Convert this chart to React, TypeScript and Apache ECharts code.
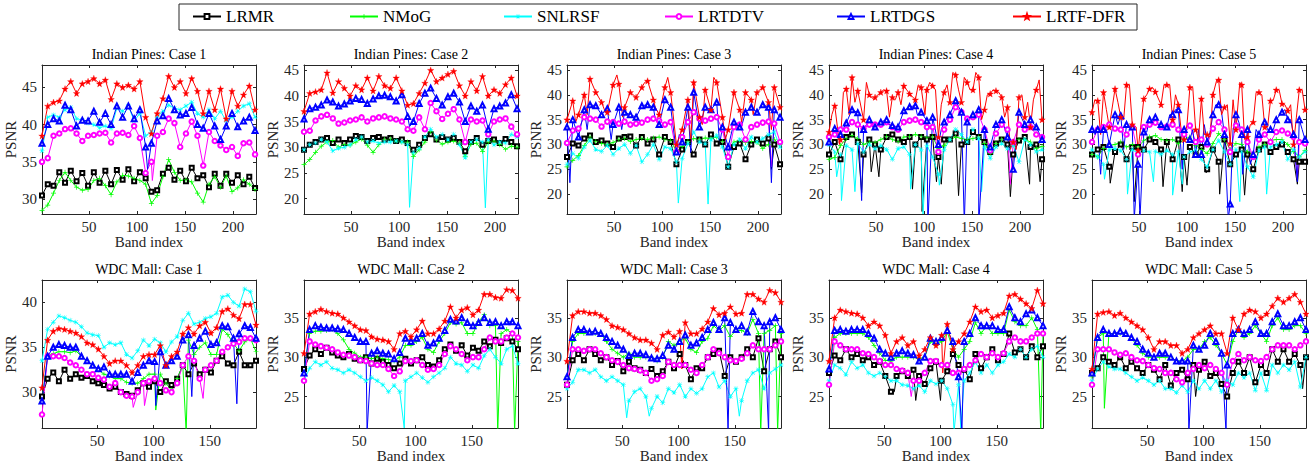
import React, { useEffect, useRef } from "react";
import * as echarts from "echarts";

const FONT = "'Liberation Serif', 'Times New Roman', serif";

const methods = ["LRMR", "NMoG", "SNLRSF", "LRTDTV", "LRTDGS", "LRTF-DFR"];

// band indices sampled from the curves
const ipBands = [1, 7, 13, 19, 25, 31, 37, 43, 49, 55, 61, 67, 73, 79, 85, 91, 97, 103, 109, 115, 121, 127, 133, 139, 145, 151, 157, 163, 169, 175, 181, 187, 193, 199, 205, 211, 217, 223];
const wdcBands = [1, 6, 11, 16, 21, 26, 31, 36, 41, 46, 51, 56, 61, 66, 71, 76, 81, 86, 91, 96, 101, 106, 111, 116, 121, 126, 131, 136, 141, 146, 151, 156, 161, 166, 171, 176, 181, 186, 191];

const ipXTicks = [50, 100, 150, 200];
const wdcXTicks = [50, 100, 150];
const ipYTicksCase1 = [30, 35, 40, 45];
const ipYTicks = [20, 25, 30, 35, 40, 45];
const wdcYTicksCase1 = [30, 35, 40];
const wdcYTicks = [25, 30, 35];

// ---------- Indian Pines: Case 1 ----------
const ip1Lrmr = [30.5, 32.0, 31.8, 33.6, 32.2, 33.8, 32.4, 33.5, 31.8, 33.6, 32.2, 33.8, 32.0, 33.9, 32.6, 34.0, 32.4, 33.6, 32.8, 31.0, 31.2, 33.4, 34.2, 32.6, 33.8, 32.4, 34.2, 32.8, 33.2, 31.6, 33.4, 31.8, 33.4, 32.2, 33.2, 32.0, 33.0, 31.5];
const ip1Nmog = [28.5, 29.2, 30.8, 32.5, 33.6, 32.5, 31.6, 31.2, 31.3, 32.5, 32.8, 31.8, 30.6, 32.3, 33.2, 33.1, 32.8, 32.5, 32.0, 29.4, 30.5, 33.0, 35.3, 33.6, 32.5, 32.6, 32.3, 30.8, 29.6, 32.0, 33.0, 31.6, 33.1, 31.0, 31.5, 32.6, 32.0, 31.3];
const ip1Snlrsf = [36.5, 41.0, 41.3, 41.0, 42.0, 42.3, 40.8, 40.6, 40.2, 40.0, 39.6, 39.8, 39.5, 42.2, 41.8, 42.5, 40.5, 41.5, 38.5, 39.0, 41.0, 41.8, 42.6, 42.2, 42.0, 42.5, 43.0, 41.5, 41.0, 42.0, 40.8, 41.8, 40.5, 41.0, 41.8, 42.5, 42.8, 41.0];
const ip1Lrtdtv = [35.0, 35.5, 38.5, 38.8, 39.4, 39.5, 38.8, 37.8, 38.5, 38.6, 38.8, 38.9, 37.6, 38.8, 38.9, 38.6, 39.8, 38.2, 33.5, 35.0, 38.5, 39.0, 40.8, 40.2, 37.0, 38.8, 40.4, 38.5, 34.5, 39.0, 37.8, 37.2, 36.6, 37.0, 35.8, 37.5, 37.6, 36.0];
const ip1Lrtdgs = [37.5, 40.0, 40.8, 40.5, 42.6, 42.0, 39.8, 40.6, 40.5, 41.8, 40.3, 41.5, 40.0, 42.5, 41.0, 42.5, 40.8, 42.0, 37.0, 37.5, 40.5, 41.2, 43.5, 42.0, 41.3, 41.5, 42.3, 40.0, 39.5, 41.5, 39.8, 38.0, 39.8, 41.5, 39.7, 40.5, 41.0, 39.2];
const ip1Lrtfdfr = [38.5, 42.5, 43.0, 43.2, 44.8, 45.8, 44.2, 45.5, 45.8, 46.2, 45.5, 46.0, 43.4, 45.5, 45.0, 45.3, 44.8, 45.8, 41.0, 38.8, 41.5, 43.5, 46.5, 45.0, 45.8, 44.2, 46.2, 44.5, 41.5, 44.5, 42.0, 44.8, 40.8, 44.5, 42.5, 44.0, 45.2, 42.0];
// [method index, band, PSNR] for narrow excursions between the sampled bands
const ip1Spikes = [[4, 111, 34.0], [3, 116, 32.5]];

// ---------- Indian Pines: Case 2 ----------
const ip2Lrmr = [29.5, 30.5, 31.0, 31.5, 31.8, 30.8, 31.5, 30.8, 31.5, 32.2, 32.0, 31.2, 31.8, 32.0, 31.5, 31.8, 31.2, 31.5, 30.8, 29.5, 30.5, 31.8, 32.5, 31.5, 32.0, 31.5, 31.8, 31.0, 29.2, 31.0, 31.8, 30.5, 31.2, 31.5, 30.8, 31.6, 31.0, 30.2];
const ip2Nmog = [26.6, 27.6, 29.0, 30.2, 31.0, 31.3, 30.0, 30.5, 30.4, 31.0, 31.6, 30.4, 29.0, 30.5, 31.5, 31.6, 31.2, 31.0, 31.0, 28.2, 29.5, 31.0, 33.0, 31.4, 30.6, 31.0, 31.2, 30.8, 28.2, 30.6, 30.8, 29.2, 31.0, 31.2, 30.5, 29.6, 30.2, 30.0];
const ip2Snlrsf = [29.5, 30.5, 30.8, 31.5, 31.0, 29.3, 29.8, 30.0, 30.5, 31.5, 32.0, 31.0, 31.2, 30.8, 31.0, 31.0, 31.2, 31.0, 30.5, 29.0, 29.8, 32.0, 33.5, 32.0, 32.5, 31.5, 32.5, 30.5, 28.0, 31.0, 31.5, 31.0, 31.5, 30.5, 31.0, 30.8, 32.5, 32.0];
const ip2Lrtdtv = [33.0, 33.2, 35.2, 36.0, 36.3, 35.6, 34.6, 34.8, 35.2, 35.4, 35.8, 35.0, 35.6, 35.8, 36.0, 35.6, 35.4, 35.0, 33.5, 33.2, 35.8, 33.5, 38.6, 37.0, 35.5, 36.5, 37.4, 35.4, 31.0, 35.4, 35.0, 35.2, 32.5, 35.0, 35.4, 35.6, 34.0, 32.5];
const ip2Lrtdgs = [35.5, 37.5, 37.8, 38.2, 39.2, 38.8, 38.0, 38.4, 39.0, 39.5, 39.3, 38.5, 39.4, 40.0, 40.1, 39.8, 39.0, 40.2, 36.0, 35.0, 38.5, 40.5, 41.5, 39.5, 38.2, 39.8, 40.5, 38.8, 35.0, 38.0, 37.0, 38.2, 33.5, 37.5, 38.0, 38.6, 40.2, 37.5];
const ip2Lrtfdfr = [37.0, 40.5, 40.8, 41.2, 44.5, 40.6, 42.8, 41.5, 40.0, 42.0, 41.2, 43.5, 41.0, 43.8, 42.0, 41.5, 43.5, 41.0, 38.2, 38.5, 40.5, 42.5, 45.0, 42.8, 43.5, 44.2, 44.8, 42.0, 40.0, 42.8, 41.0, 43.8, 40.0, 41.2, 40.5, 42.2, 43.5, 40.0];
const ip2Spikes = [[2, 111, 18.3], [2, 190, 18.2], [4, 111, 34.0]];

// ---------- Indian Pines: Case 3 ----------
const ip3Lrmr = [27.5, 30.2, 29.8, 31.2, 31.8, 30.5, 30.8, 30.2, 29.5, 31.2, 31.5, 31.6, 29.8, 31.5, 30.2, 31.0, 28.0, 31.5, 30.5, 26.0, 29.0, 30.5, 28.0, 31.0, 30.0, 32.0, 30.2, 30.5, 25.5, 29.5, 30.2, 27.0, 30.0, 31.0, 30.2, 31.2, 30.0, 26.0];
const ip3Nmog = [25.5, 26.8, 27.8, 29.8, 31.5, 30.6, 30.2, 30.0, 30.4, 31.0, 31.2, 30.6, 31.0, 31.2, 31.0, 31.3, 31.5, 31.0, 30.8, 28.6, 29.6, 30.6, 31.2, 31.0, 31.3, 31.2, 31.5, 30.6, 29.2, 30.5, 30.8, 30.4, 30.6, 30.4, 29.2, 30.0, 31.0, 30.0];
const ip3Snlrsf = [26.0, 28.2, 27.2, 29.5, 30.8, 29.0, 28.6, 29.8, 28.0, 29.2, 30.0, 28.2, 29.8, 26.5, 28.0, 30.0, 27.0, 29.5, 29.2, 26.5, 27.2, 30.2, 32.5, 30.5, 30.2, 31.0, 31.8, 29.5, 25.5, 30.0, 31.0, 29.2, 31.5, 30.5, 31.2, 32.0, 32.5, 29.5];
const ip3Lrtdtv = [30.3, 32.8, 33.2, 35.5, 35.2, 35.0, 33.6, 34.6, 34.5, 34.2, 34.6, 34.0, 34.2, 34.4, 35.0, 35.2, 34.8, 34.0, 34.5, 28.5, 31.5, 34.5, 36.5, 35.2, 34.8, 35.2, 35.5, 33.0, 27.5, 33.5, 34.0, 31.0, 33.5, 34.0, 34.4, 34.6, 34.2, 30.5];
const ip3Lrtdgs = [33.5, 35.0, 31.5, 37.0, 38.0, 37.8, 36.0, 37.2, 34.0, 37.5, 36.5, 36.0, 35.5, 37.8, 38.0, 37.5, 34.0, 39.0, 37.5, 28.5, 30.5, 37.5, 40.5, 33.5, 37.5, 37.0, 38.5, 33.5, 29.5, 34.5, 33.5, 36.5, 37.5, 36.5, 38.0, 37.5, 37.0, 35.5];
const ip3Lrtfdfr = [35.0, 38.8, 36.0, 40.0, 43.2, 40.5, 38.5, 36.5, 42.0, 42.2, 37.5, 40.5, 39.5, 41.5, 42.8, 39.0, 36.0, 41.5, 40.5, 30.0, 33.0, 39.0, 42.5, 35.5, 41.0, 37.0, 42.5, 35.5, 33.0, 40.5, 37.0, 40.5, 39.0, 40.5, 41.5, 38.5, 41.5, 37.5];
const ip3Spikes = [
  [4, 4, 22.3], [4, 214, 22.3], [4, 130, 28.3], [4, 22, 33.0], [4, 47, 31.0], [4, 58, 33.0], [4, 93, 35.0], [4, 118, 32.0], [4, 160, 30.0], [4, 182, 33.0],
  [3, 214, 25.5], [0, 214, 25.0], [2, 117, 18.2], [2, 148, 18.0],
  [5, 130, 30.5], [5, 10, 34.5], [5, 22, 36.0], [5, 41, 36.5], [5, 53, 44.0], [5, 59, 35.5], [5, 82, 42.5], [5, 93, 37.5], [5, 106, 43.5], [5, 142, 34.0], [5, 154, 43.5], [5, 166, 31.0], [5, 183, 34.5], [5, 195, 36.0], [5, 214, 33.0],
];

// ---------- Indian Pines: Case 4 ----------
const ip4Lrmr = [28.0, 30.5, 27.0, 31.5, 32.0, 30.5, 28.0, 31.0, 30.0, 29.0, 31.5, 32.0, 31.0, 30.5, 31.5, 30.0, 31.5, 31.0, 31.5, 27.5, 31.0, 31.0, 32.2, 30.0, 30.5, 32.5, 31.5, 30.5, 28.5, 30.2, 31.0, 30.0, 28.0, 30.8, 31.5, 29.5, 30.0, 27.0];
const ip4Nmog = [27.0, 27.4, 29.8, 31.2, 31.8, 31.2, 30.0, 30.5, 30.4, 31.0, 31.6, 31.0, 30.6, 31.5, 31.6, 32.0, 31.6, 31.4, 31.5, 29.2, 29.8, 31.0, 31.5, 31.2, 31.0, 31.2, 31.5, 30.2, 28.2, 30.2, 31.0, 31.2, 30.2, 31.0, 31.0, 30.5, 29.2, 29.6];
const ip4Snlrsf = [30.0, 28.5, 28.0, 29.8, 29.0, 30.2, 28.5, 30.0, 29.2, 29.8, 29.0, 27.0, 29.2, 29.5, 28.0, 30.0, 29.0, 29.8, 27.5, 24.0, 29.0, 31.0, 33.0, 32.0, 30.5, 33.0, 31.2, 29.5, 27.2, 29.5, 30.2, 29.2, 29.8, 26.5, 31.0, 30.0, 28.5, 29.0];
const ip4Lrtdtv = [31.5, 32.0, 33.0, 33.0, 34.5, 34.0, 33.2, 34.0, 34.0, 34.0, 34.5, 33.5, 33.0, 34.5, 34.8, 35.0, 34.5, 33.5, 33.5, 28.5, 33.0, 35.0, 37.5, 36.5, 35.2, 35.5, 36.0, 33.0, 28.8, 32.2, 34.0, 33.0, 30.5, 34.0, 33.0, 33.5, 32.0, 31.5];
const ip4Lrtdgs = [30.5, 33.2, 32.0, 34.3, 37.0, 36.4, 33.0, 35.0, 33.5, 34.5, 35.0, 33.8, 33.5, 36.8, 37.6, 37.8, 36.5, 34.8, 35.5, 30.0, 34.5, 36.0, 38.8, 36.5, 34.5, 36.0, 37.0, 33.0, 29.5, 34.0, 35.0, 31.5, 25.0, 36.5, 34.0, 35.0, 33.5, 31.0];
const ip4Lrtfdfr = [32.5, 37.8, 31.0, 41.2, 43.5, 40.8, 35.0, 40.0, 39.5, 40.5, 40.8, 39.5, 40.5, 41.8, 40.2, 39.0, 41.5, 41.0, 41.8, 31.5, 40.5, 38.5, 44.0, 38.5, 42.5, 41.0, 43.5, 37.0, 40.2, 40.8, 39.5, 37.5, 30.5, 39.5, 35.5, 33.5, 41.0, 35.0];
const ip4Spikes = [
  [0, 35, 20.3], [0, 45, 24.5], [0, 53, 23.5], [0, 88, 21.0], [0, 98, 16.5], [0, 113, 22.5], [0, 118, 22.0], [0, 136, 19.7], [0, 190, 19.5], [0, 210, 22.0], [0, 221, 22.5],
  [2, 9, 23.5], [2, 14, 18.7], [2, 28, 20.5], [2, 86, 21.0], [2, 99, 16.0], [2, 116, 21.8], [2, 160, 20.5],
  [3, 190, 22.0],
  [4, 35, 18.7], [4, 104, 14.0], [4, 142, 14.0], [4, 157, 14.0], [4, 12, 31.0], [4, 48, 33.0], [4, 63, 34.0], [4, 93, 36.0], [4, 118, 33.0], [4, 165, 30.0],
  [5, 12, 30.0], [5, 64, 35.5], [5, 101, 36.0], [5, 160, 35.0], [5, 184, 35.5],
  [5, 4, 36.0], [5, 16, 40.5], [5, 22, 36.0], [5, 28, 38.5], [5, 40, 42.5], [5, 48, 39.0], [5, 58, 41.0], [5, 70, 39.0], [5, 76, 38.0], [5, 82, 41.0], [5, 94, 42.0], [5, 106, 42.5], [5, 112, 41.0], [5, 118, 38.0], [5, 124, 42.0], [5, 130, 44.5], [5, 136, 41.0], [5, 142, 43.5], [5, 148, 41.0], [5, 154, 44.5], [5, 166, 40.0], [5, 172, 41.0], [5, 178, 40.5], [5, 190, 29.0], [5, 196, 29.0], [5, 202, 40.0], [5, 208, 38.5], [5, 214, 39.0], [5, 220, 43.0],
];

// ---------- Indian Pines: Case 5 ----------
const ip5Lrmr = [28.0, 29.0, 29.5, 25.5, 28.5, 30.0, 27.0, 29.5, 29.5, 29.0, 31.0, 30.5, 29.0, 30.5, 27.0, 31.0, 27.5, 29.5, 28.0, 29.5, 25.0, 29.0, 26.5, 31.0, 26.0, 28.0, 29.0, 28.0, 25.0, 29.0, 30.0, 28.5, 29.5, 30.0, 28.5, 27.0, 26.5, 26.5];
const ip5Nmog = [28.0, 27.5, 29.2, 29.8, 30.0, 30.5, 29.5, 30.0, 29.5, 30.8, 31.5, 31.8, 31.0, 30.8, 31.0, 30.2, 31.0, 31.5, 29.8, 29.0, 28.2, 30.2, 32.2, 31.0, 29.0, 30.2, 30.0, 28.5, 27.8, 29.5, 30.0, 30.8, 31.0, 31.0, 30.0, 28.6, 27.5, 28.8];
const ip5Snlrsf = [29.0, 27.5, 26.0, 29.0, 29.2, 28.8, 27.0, 29.0, 28.2, 28.8, 28.5, 28.6, 28.0, 28.8, 28.0, 28.6, 27.5, 28.5, 28.8, 27.0, 25.5, 29.0, 30.8, 28.5, 26.0, 29.0, 28.5, 25.5, 23.5, 28.8, 29.5, 29.5, 30.0, 30.5, 27.0, 29.0, 27.5, 28.5];
const ip5Lrtdtv = [30.5, 33.0, 33.5, 34.0, 33.2, 33.0, 32.0, 33.5, 28.0, 33.5, 34.0, 34.4, 33.5, 33.6, 34.0, 33.0, 32.0, 33.8, 30.5, 31.0, 30.0, 33.2, 34.5, 33.0, 28.5, 33.8, 33.0, 30.5, 27.5, 31.0, 32.0, 30.5, 32.5, 32.8, 32.2, 31.5, 30.5, 30.2];
const ip5Lrtdgs = [33.0, 33.0, 33.0, 30.0, 36.0, 35.8, 34.0, 33.5, 26.0, 32.5, 35.0, 35.5, 34.0, 33.5, 36.0, 37.0, 33.0, 31.0, 28.0, 28.0, 30.5, 36.0, 38.0, 32.0, 18.0, 36.0, 32.0, 33.0, 28.0, 32.0, 34.5, 33.0, 35.0, 36.5, 35.0, 32.0, 35.0, 31.0];
const ip5Lrtfdfr = [36.5, 38.8, 40.5, 33.5, 41.2, 35.5, 42.0, 34.0, 28.8, 39.2, 41.2, 40.6, 38.0, 42.0, 35.0, 38.0, 31.0, 41.5, 33.0, 39.2, 32.0, 40.0, 43.0, 37.5, 30.2, 33.0, 42.0, 31.5, 34.5, 40.5, 33.5, 38.8, 41.0, 38.2, 36.8, 30.0, 41.0, 37.0];
const ip5Spikes = [
  [0, 20, 22.2], [0, 45, 18.5], [0, 75, 21.5], [0, 95, 20.5], [0, 100, 21.8], [0, 120, 24.3], [0, 134, 20.0], [0, 160, 19.8], [0, 215, 22.0],
  [2, 14, 23.0], [2, 38, 20.0], [2, 65, 22.5], [2, 85, 19.8], [2, 95, 22.0], [2, 155, 18.5], [2, 183, 20.0],
  [3, 215, 23.0],
  [4, 10, 24.0], [4, 45, 15.0], [4, 51, 15.0], [4, 95, 25.0], [4, 143, 15.0], [4, 158, 24.0], [4, 215, 22.5],
  [4, 4, 32.0], [4, 16, 33.0], [4, 28, 34.0], [4, 34, 29.0], [4, 40, 33.5], [4, 58, 32.5], [4, 64, 34.0], [4, 70, 34.0], [4, 82, 36.0], [4, 88, 37.0], [4, 100, 31.0], [4, 106, 33.0], [4, 112, 33.0], [4, 118, 34.0], [4, 124, 32.5], [4, 130, 38.0], [4, 136, 36.5], [4, 148, 33.0], [4, 154, 34.5], [4, 166, 26.0], [4, 172, 33.0], [4, 178, 34.0], [4, 184, 33.0], [4, 190, 33.0], [4, 202, 37.0], [4, 208, 35.0], [4, 220, 33.0],
  [5, 4, 39.0], [5, 10, 32.0], [5, 16, 37.0], [5, 28, 38.5], [5, 34, 35.0], [5, 40, 42.0], [5, 47, 33.5], [5, 58, 40.0], [5, 64, 41.5], [5, 76, 42.0], [5, 82, 42.0], [5, 88, 40.0], [5, 95, 31.0], [5, 100, 34.0], [5, 106, 41.5], [5, 112, 31.0], [5, 118, 32.0], [5, 124, 31.5], [5, 131, 43.0], [5, 136, 36.0], [5, 142, 38.0], [5, 148, 39.0], [5, 155, 42.5], [5, 160, 31.0], [5, 166, 34.0], [5, 172, 40.5], [5, 178, 40.0], [5, 184, 33.5], [5, 190, 39.0], [5, 196, 41.0], [5, 202, 38.0], [5, 208, 38.0], [5, 214, 35.5], [5, 220, 41.0],
];

// ---------- WDC Mall: Case 1 ----------
const wdc1Lrmr = [29.5, 31.5, 32.2, 31.2, 32.5, 31.5, 32.0, 31.6, 31.8, 31.2, 31.0, 30.8, 30.4, 30.6, 30.0, 29.8, 29.6, 30.2, 31.0, 30.6, 31.2, 30.0, 31.2, 30.8, 31.5, 33.0, 32.0, 33.2, 32.0, 32.5, 32.2, 33.5, 34.0, 33.2, 33.0, 34.5, 33.0, 33.0, 33.5];
const wdc1Nmog = [29.0, 34.0, 34.3, 34.5, 34.5, 34.4, 34.6, 34.0, 33.5, 33.0, 32.5, 32.0, 31.8, 31.5, 31.5, 31.1, 31.0, 31.0, 31.5, 32.0, 32.0, 32.0, 31.0, 30.2, 31.5, 33.0, 35.8, 34.2, 35.0, 35.5, 34.2, 34.2, 37.0, 36.4, 35.4, 34.6, 35.6, 36.0, 34.5];
const wdc1Snlrsf = [33.5, 37.0, 37.8, 38.5, 38.3, 38.0, 37.8, 37.3, 36.6, 36.4, 36.3, 35.0, 35.5, 35.3, 35.5, 34.2, 33.8, 34.6, 35.8, 35.2, 35.9, 35.5, 34.5, 35.6, 36.2, 38.0, 38.8, 37.6, 37.8, 38.2, 38.4, 38.8, 40.6, 40.8, 40.0, 39.6, 41.5, 41.2, 39.0];
const wdc1Lrtdtv = [27.5, 34.0, 34.0, 34.0, 33.8, 33.3, 33.0, 32.5, 32.0, 32.0, 31.6, 31.4, 30.6, 31.0, 30.0, 29.6, 29.5, 30.0, 31.0, 31.2, 31.5, 31.0, 30.2, 30.0, 31.0, 33.0, 34.0, 33.5, 31.5, 32.5, 33.0, 33.5, 34.5, 35.0, 35.4, 35.6, 36.0, 36.0, 35.8];
const wdc1Lrtdgs = [29.0, 34.0, 35.0, 35.3, 35.2, 35.0, 35.0, 34.0, 33.5, 33.0, 32.6, 32.8, 32.0, 32.0, 32.0, 32.0, 31.2, 32.2, 33.0, 33.5, 33.4, 34.5, 33.0, 33.5, 34.0, 35.8, 36.4, 35.2, 36.0, 36.8, 35.3, 35.5, 37.4, 37.3, 36.0, 36.5, 37.4, 37.2, 36.0];
const wdc1Lrtfdfr = [30.5, 35.8, 36.8, 37.1, 37.0, 36.8, 36.6, 36.2, 35.5, 35.3, 34.8, 34.0, 33.2, 33.5, 33.5, 33.0, 32.2, 33.0, 34.0, 34.2, 34.2, 35.2, 33.0, 34.0, 34.5, 36.5, 37.2, 36.5, 37.4, 37.8, 36.6, 37.2, 39.0, 39.3, 38.6, 38.2, 39.8, 39.8, 37.5];
const wdc1Spikes = [[4, 102, 28.5], [4, 134, 29.5], [4, 174, 28.7], [1, 102, 28.0], [1, 129, 25.5], [3, 82, 28.3], [3, 92, 28.5], [3, 144, 29.3]];

// ---------- WDC Mall: Case 2 ----------
const wdc2Lrmr = [28.5, 30.2, 31.0, 30.4, 31.2, 30.6, 30.2, 30.0, 30.4, 29.8, 29.6, 30.0, 29.2, 29.8, 29.4, 29.0, 28.6, 29.2, 29.8, 29.2, 29.6, 30.0, 29.0, 28.8, 29.6, 31.0, 31.6, 30.8, 31.5, 30.2, 31.2, 30.8, 32.0, 31.4, 32.2, 31.8, 32.4, 32.0, 31.0];
const wdc2Nmog = [28.0, 33.0, 33.3, 33.3, 33.4, 33.5, 33.0, 32.2, 31.0, 30.5, 30.0, 30.0, 29.8, 30.0, 29.8, 29.7, 29.5, 30.0, 31.5, 31.5, 32.0, 32.5, 31.0, 30.6, 32.0, 33.0, 34.4, 34.2, 34.4, 33.0, 33.0, 34.5, 35.4, 34.0, 34.0, 33.0, 33.5, 33.0, 32.0];
const wdc2Snlrsf = [27.0, 28.6, 29.4, 29.0, 29.4, 28.6, 28.4, 28.0, 28.4, 28.0, 27.5, 27.0, 27.4, 27.0, 26.5, 25.6, 26.4, 25.6, 27.0, 27.5, 28.0, 27.4, 26.8, 27.5, 28.0, 28.6, 30.0, 29.2, 29.0, 28.2, 29.0, 28.6, 30.2, 31.0, 30.0, 29.2, 31.0, 31.4, 29.2];
const wdc2Lrtdtv = [27.0, 32.0, 31.6, 31.4, 31.2, 31.0, 30.6, 30.3, 30.2, 30.0, 29.6, 29.5, 29.2, 29.0, 29.0, 28.5, 27.6, 28.2, 29.5, 29.5, 29.6, 29.0, 28.4, 28.5, 29.0, 30.4, 31.4, 31.0, 30.4, 29.6, 30.0, 30.0, 31.0, 32.5, 32.0, 32.0, 32.5, 33.0, 32.5];
const wdc2Lrtdgs = [28.0, 33.5, 34.0, 33.8, 33.7, 33.7, 33.6, 33.5, 33.0, 32.5, 32.0, 32.0, 30.5, 30.8, 30.5, 30.4, 29.8, 30.6, 32.4, 32.0, 32.4, 33.0, 31.5, 31.8, 32.4, 33.4, 34.8, 34.6, 35.0, 34.4, 34.0, 34.4, 35.0, 34.4, 34.5, 34.0, 34.5, 34.5, 34.0];
const wdc2Lrtfdfr = [30.5, 35.5, 35.8, 36.1, 35.8, 35.6, 35.5, 35.0, 34.5, 34.0, 33.5, 33.4, 32.6, 32.3, 32.2, 32.0, 31.0, 33.0, 33.3, 32.6, 33.5, 34.6, 33.0, 33.0, 33.6, 34.6, 36.4, 35.0, 36.0, 36.3, 35.4, 36.0, 38.0, 38.0, 37.6, 37.5, 38.6, 38.5, 37.5];
const wdc2Spikes = [[4, 57, 20.5], [1, 173, 20.5], [1, 188, 20.5], [2, 90, 21.0]];

// ---------- WDC Mall: Case 3 ----------
const wdc3Lrmr = [26.5, 29.6, 30.4, 29.6, 31.0, 30.4, 29.6, 30.0, 29.0, 29.5, 28.2, 29.4, 28.6, 28.4, 28.0, 28.5, 27.6, 28.2, 29.4, 28.6, 30.4, 29.0, 27.2, 28.6, 28.6, 30.0, 30.4, 30.8, 27.6, 30.0, 29.4, 30.0, 31.0, 30.0, 32.4, 28.2, 31.0, 32.0, 30.0];
const wdc3Nmog = [27.5, 32.0, 33.0, 33.0, 33.2, 33.0, 33.0, 32.0, 31.0, 30.5, 30.0, 30.5, 30.0, 30.0, 30.0, 30.0, 29.5, 30.0, 32.0, 31.5, 32.0, 32.4, 31.0, 30.6, 32.0, 32.4, 34.0, 33.4, 34.0, 32.6, 33.4, 33.4, 33.0, 34.8, 33.0, 33.0, 33.4, 34.0, 33.0];
const wdc3Snlrsf = [26.0, 26.8, 28.4, 28.4, 28.0, 28.4, 27.5, 27.0, 27.5, 27.0, 26.5, 24.5, 25.6, 26.0, 25.0, 23.5, 25.0, 24.2, 26.0, 25.5, 26.5, 25.0, 26.0, 25.4, 26.0, 27.5, 28.0, 26.2, 27.0, 25.0, 26.0, 24.5, 27.0, 28.0, 28.4, 26.0, 28.0, 28.5, 29.0];
const wdc3Lrtdtv = [26.5, 31.0, 31.0, 30.8, 31.0, 31.0, 30.5, 30.0, 29.6, 29.4, 29.0, 28.6, 28.5, 28.3, 28.0, 27.0, 27.2, 27.6, 29.4, 29.0, 29.0, 29.0, 28.4, 28.0, 29.0, 30.0, 31.0, 30.5, 30.0, 29.6, 29.5, 29.8, 30.5, 31.5, 31.0, 31.0, 31.0, 31.5, 32.0];
const wdc3Lrtdgs = [27.5, 32.5, 33.5, 33.5, 33.2, 33.3, 33.0, 32.5, 32.0, 31.5, 31.0, 30.2, 30.5, 30.5, 30.3, 29.9, 29.8, 30.2, 31.5, 31.0, 32.0, 32.8, 31.5, 31.8, 32.5, 33.5, 34.4, 33.5, 35.0, 34.4, 33.5, 34.0, 33.2, 35.8, 34.5, 34.0, 34.5, 35.0, 33.5];
const wdc3Lrtfdfr = [29.5, 35.3, 35.8, 35.8, 35.6, 35.6, 35.3, 34.8, 34.0, 33.8, 33.5, 33.0, 32.5, 32.2, 32.2, 31.8, 31.0, 32.8, 33.2, 32.6, 33.3, 34.4, 33.0, 33.0, 33.6, 34.5, 36.2, 35.4, 35.6, 36.4, 35.5, 35.6, 38.0, 38.0, 37.4, 37.0, 38.5, 38.2, 37.0];
const wdc3Spikes = [[5, 103, 28.5], [4, 144, 20.5], [4, 180, 20.5], [1, 173, 20.5], [1, 188, 20.5], [2, 54, 22.3], [2, 74, 22.5], [2, 154, 22.5]];

// ---------- WDC Mall: Case 4 ----------
const wdc4Lrmr = [28.0, 30.2, 29.6, 31.0, 30.0, 30.4, 29.6, 30.0, 29.0, 29.4, 27.6, 25.6, 27.6, 28.2, 27.6, 28.4, 27.6, 26.6, 28.6, 29.4, 27.0, 28.2, 30.4, 29.0, 28.4, 27.2, 30.4, 28.6, 30.0, 31.0, 29.6, 30.4, 33.0, 30.6, 31.0, 30.0, 31.4, 30.0, 31.4];
const wdc4Nmog = [28.5, 32.5, 33.0, 33.0, 33.0, 33.0, 33.0, 32.5, 31.5, 30.5, 29.6, 29.5, 30.0, 30.0, 30.0, 30.0, 29.8, 30.0, 32.0, 31.5, 32.0, 33.2, 31.0, 30.0, 31.0, 32.0, 34.4, 33.0, 34.0, 33.0, 33.0, 33.0, 36.0, 34.5, 34.0, 34.0, 35.0, 33.5, 33.0];
const wdc4Snlrsf = [27.0, 29.0, 28.6, 27.8, 29.4, 28.6, 29.0, 28.0, 27.6, 28.0, 27.5, 27.0, 27.0, 26.5, 26.4, 26.0, 26.4, 25.6, 27.0, 26.6, 27.0, 26.0, 24.0, 26.5, 27.0, 28.0, 29.4, 28.0, 29.0, 28.0, 29.0, 29.4, 30.4, 30.0, 31.0, 30.0, 31.0, 31.4, 30.0];
const wdc4Lrtdtv = [26.5, 32.0, 31.5, 31.0, 31.0, 31.0, 30.5, 30.4, 30.0, 29.5, 29.0, 29.0, 28.5, 28.3, 28.0, 27.0, 27.0, 28.0, 29.5, 29.5, 29.0, 29.0, 28.0, 28.0, 28.5, 29.0, 29.6, 30.4, 30.0, 30.5, 30.0, 30.5, 32.0, 32.5, 32.0, 32.0, 32.5, 33.0, 33.0];
const wdc4Lrtdgs = [28.5, 33.4, 33.5, 33.3, 33.5, 33.5, 33.5, 33.0, 32.4, 31.0, 30.5, 30.0, 30.5, 30.8, 30.5, 30.3, 29.5, 30.0, 32.4, 32.0, 32.5, 33.4, 32.0, 27.5, 32.0, 33.0, 35.0, 34.0, 34.0, 34.0, 33.5, 33.5, 36.4, 35.0, 34.5, 35.5, 36.0, 35.0, 34.0];
const wdc4Lrtfdfr = [29.5, 35.0, 36.0, 35.8, 35.6, 35.5, 35.0, 34.0, 34.5, 34.0, 32.8, 30.5, 32.0, 32.5, 31.5, 32.0, 30.2, 31.0, 32.5, 31.5, 32.8, 34.2, 31.0, 32.0, 33.0, 34.5, 36.4, 35.8, 36.0, 35.0, 35.3, 35.6, 37.8, 38.0, 37.4, 36.8, 36.2, 38.5, 36.8];
const wdc4Spikes = [[5, 102, 28.0], [4, 119, 20.5], [1, 189, 20.5], [3, 74, 25.0], [0, 59, 25.6], [0, 78, 24.5], [0, 100, 24.5], [2, 112, 20.5], [2, 118, 21.0]];

// ---------- WDC Mall: Case 5 ----------
const wdc5Lrmr = [28.0, 28.6, 30.0, 29.4, 29.0, 30.0, 28.6, 29.4, 28.6, 28.0, 29.0, 28.4, 27.2, 29.0, 26.4, 28.0, 28.4, 27.2, 29.0, 28.4, 29.4, 27.6, 28.0, 26.6, 25.0, 28.0, 29.4, 28.0, 30.0, 26.8, 29.0, 28.0, 31.0, 29.4, 31.0, 29.4, 30.4, 29.0, 30.0];
const wdc5Nmog = [27.5, 32.5, 33.0, 33.0, 33.0, 33.0, 33.0, 32.4, 31.5, 30.5, 30.0, 30.0, 30.0, 30.0, 30.0, 29.5, 29.5, 30.0, 31.0, 31.0, 32.0, 32.5, 31.5, 30.5, 29.0, 32.0, 33.5, 32.5, 33.0, 34.0, 33.0, 32.0, 34.0, 35.0, 33.5, 33.5, 34.0, 34.0, 33.0];
const wdc5Snlrsf = [27.0, 28.5, 29.4, 28.8, 28.5, 28.5, 28.0, 27.5, 27.0, 27.4, 27.0, 26.5, 27.0, 26.0, 26.0, 25.5, 26.4, 25.6, 27.0, 26.0, 27.0, 26.0, 27.0, 25.6, 27.0, 26.5, 28.0, 27.4, 28.0, 25.8, 28.0, 25.8, 29.0, 28.0, 29.0, 28.4, 29.4, 26.2, 30.0];
const wdc5Lrtdtv = [26.5, 31.0, 31.0, 31.0, 30.6, 30.3, 30.5, 30.0, 29.6, 29.5, 29.0, 28.6, 28.5, 28.0, 28.0, 27.2, 26.8, 28.0, 28.5, 29.0, 28.6, 29.0, 28.5, 28.0, 26.5, 29.5, 30.4, 29.6, 30.0, 29.6, 29.5, 30.0, 31.0, 31.5, 31.5, 31.5, 31.0, 31.5, 32.0];
const wdc5Lrtdgs = [28.0, 32.5, 33.5, 33.0, 33.0, 33.3, 33.0, 32.5, 32.0, 31.0, 30.5, 30.0, 30.5, 30.5, 30.0, 29.5, 29.5, 29.5, 31.5, 31.0, 31.5, 33.0, 32.0, 30.5, 29.0, 33.0, 33.5, 33.0, 33.5, 34.5, 33.0, 33.0, 34.5, 35.5, 34.0, 34.0, 34.5, 35.0, 33.5];
const wdc5Lrtfdfr = [28.5, 35.5, 35.7, 35.8, 35.3, 35.6, 35.0, 34.5, 34.0, 33.5, 32.5, 31.0, 32.0, 32.0, 31.5, 31.5, 30.5, 31.0, 32.5, 33.0, 33.5, 34.0, 33.0, 33.0, 30.5, 35.0, 33.5, 35.5, 36.0, 35.8, 35.0, 35.5, 36.5, 37.5, 37.0, 37.5, 38.0, 37.0, 35.5];
const wdc5Spikes = [[4, 87, 20.5], [4, 120, 20.5], [1, 12, 23.5], [0, 93, 25.0], [0, 188, 26.0]];

const panels = [
  { title: "Indian Pines: Case 1", bands: ipBands, xmin: 1, xmax: 224, xticks: ipXTicks, ymin: 28, ymax: 48, yticks: ipYTicksCase1, series: [ip1Lrmr, ip1Nmog, ip1Snlrsf, ip1Lrtdtv, ip1Lrtdgs, ip1Lrtfdfr], spikes: ip1Spikes },
  { title: "Indian Pines: Case 2", bands: ipBands, xmin: 1, xmax: 224, xticks: ipXTicks, ymin: 17, ymax: 46, yticks: ipYTicks, series: [ip2Lrmr, ip2Nmog, ip2Snlrsf, ip2Lrtdtv, ip2Lrtdgs, ip2Lrtfdfr], spikes: ip2Spikes },
  { title: "Indian Pines: Case 3", bands: ipBands, xmin: 1, xmax: 224, xticks: ipXTicks, ymin: 16, ymax: 46, yticks: ipYTicks, series: [ip3Lrmr, ip3Nmog, ip3Snlrsf, ip3Lrtdtv, ip3Lrtdgs, ip3Lrtfdfr], spikes: ip3Spikes },
  { title: "Indian Pines: Case 4", bands: ipBands, xmin: 1, xmax: 224, xticks: ipXTicks, ymin: 16, ymax: 46, yticks: ipYTicks, series: [ip4Lrmr, ip4Nmog, ip4Snlrsf, ip4Lrtdtv, ip4Lrtdgs, ip4Lrtfdfr], spikes: ip4Spikes },
  { title: "Indian Pines: Case 5", bands: ipBands, xmin: 1, xmax: 224, xticks: ipXTicks, ymin: 16, ymax: 46, yticks: ipYTicks, series: [ip5Lrmr, ip5Nmog, ip5Snlrsf, ip5Lrtdtv, ip5Lrtdgs, ip5Lrtfdfr], spikes: ip5Spikes },
  { title: "WDC Mall: Case 1", bands: wdcBands, xmin: 1, xmax: 191, xticks: wdcXTicks, ymin: 26, ymax: 42.5, yticks: wdcYTicksCase1, series: [wdc1Lrmr, wdc1Nmog, wdc1Snlrsf, wdc1Lrtdtv, wdc1Lrtdgs, wdc1Lrtfdfr], spikes: wdc1Spikes },
  { title: "WDC Mall: Case 2", bands: wdcBands, xmin: 1, xmax: 191, xticks: wdcXTicks, ymin: 21, ymax: 39.8, yticks: wdcYTicks, series: [wdc2Lrmr, wdc2Nmog, wdc2Snlrsf, wdc2Lrtdtv, wdc2Lrtdgs, wdc2Lrtfdfr], spikes: wdc2Spikes },
  { title: "WDC Mall: Case 3", bands: wdcBands, xmin: 1, xmax: 191, xticks: wdcXTicks, ymin: 21, ymax: 39.8, yticks: wdcYTicks, series: [wdc3Lrmr, wdc3Nmog, wdc3Snlrsf, wdc3Lrtdtv, wdc3Lrtdgs, wdc3Lrtfdfr], spikes: wdc3Spikes },
  { title: "WDC Mall: Case 4", bands: wdcBands, xmin: 1, xmax: 191, xticks: wdcXTicks, ymin: 21, ymax: 39.8, yticks: wdcYTicks, series: [wdc4Lrmr, wdc4Nmog, wdc4Snlrsf, wdc4Lrtdtv, wdc4Lrtdgs, wdc4Lrtfdfr], spikes: wdc4Spikes },
  { title: "WDC Mall: Case 5", bands: wdcBands, xmin: 1, xmax: 191, xticks: wdcXTicks, ymin: 21, ymax: 39.8, yticks: wdcYTicks, series: [wdc5Lrmr, wdc5Nmog, wdc5Snlrsf, wdc5Lrtdtv, wdc5Lrtdgs, wdc5Lrtfdfr], spikes: wdc5Spikes },
];

// ---------- styling ----------
const colors = ["#000000", "#00ff00", "#00ffff", "#ff00ff", "#0000ff", "#ff0000"];
const PLUS = "path://M4.3,0H5.7V4.3H10V5.7H5.7V10H4.3V5.7H0V4.3H4.3Z";
const ASTER = "path://M4.5,0H5.5V10H4.5Z M0,4.5H10V5.5H0Z M1.3,0.6L9.4,8.7L8.7,9.4L0.6,1.3Z M8.7,0.6L9.4,1.3L1.3,9.4L0.6,8.7Z";
const STAR = "path://M5,0L6.2,3.6L10,3.7L7,6L8.1,9.6L5,7.5L1.9,9.6L3,6L0,3.7L3.8,3.6Z";
const symbols = ["emptyRect", PLUS, ASTER, "emptyCircle", "emptyTriangle", STAR];
const symbolSizes = [4, 5, 5, 4.5, 5, 6.5];
const borderWidths = [1, 0, 0, 1, 1, 0.3];

const gridLefts = [42, 304, 567, 829, 1092];
const rowTops = [65, 280];
const rowHeights = [149, 148];
const GRID_W = 214;
const legendLefts = [192, 349, 503, 664, 836, 1012];
const AXIS_COLOR = "#262626";

function buildData(bands: number[], vals: number[], spikes: number[][], j: number) {
  const pts: any[] = bands.map((b, i) => ({ value: [b, vals[i]] }));
  spikes
    .filter((s) => s[0] === j)
    .forEach((s) => pts.push({ value: [s[1], s[2]], symbol: "none" }));
  pts.sort((a, b) => a.value[0] - b.value[0]);
  return pts;
}

function buildOption() {
  const grid: any[] = [];
  const xAxis: any[] = [];
  const yAxis: any[] = [];
  const series: any[] = [];
  const graphic: any[] = [];

  const labelStyle = { fontSize: 15, color: AXIS_COLOR, fontFamily: FONT };
  const nameStyle = { fontSize: 15, color: AXIS_COLOR, fontFamily: FONT };

  panels.forEach((p, k) => {
    const row = k < 5 ? 0 : 1;
    const col = k % 5;
    const left = gridLefts[col];
    const top = rowTops[row];
    const height = rowHeights[row];
    grid.push({ left, top, width: GRID_W, height, containLabel: false });

    const line = { show: true, onZero: false, lineStyle: { color: AXIS_COLOR, width: 1 } };
    xAxis.push({
      type: "value", gridIndex: k, min: p.xmin, max: p.xmax, position: "bottom",
      axisLine: line,
      axisTick: { show: true, inside: true, length: 3, customValues: p.xticks, lineStyle: { color: AXIS_COLOR } },
      axisLabel: { show: true, customValues: p.xticks, margin: 5, ...labelStyle },
      splitLine: { show: false },
      name: "Band index", nameLocation: "middle", nameGap: 19, nameTextStyle: nameStyle,
    });
    xAxis.push({
      type: "value", gridIndex: k, min: p.xmin, max: p.xmax, position: "top",
      axisLine: line,
      axisTick: { show: true, inside: true, length: 3, customValues: p.xticks, lineStyle: { color: AXIS_COLOR } },
      axisLabel: { show: false },
      splitLine: { show: false },
    });
    yAxis.push({
      type: "value", gridIndex: k, min: p.ymin, max: p.ymax, position: "left",
      axisLine: line,
      axisTick: { show: true, inside: true, length: 3, customValues: p.yticks, lineStyle: { color: AXIS_COLOR } },
      axisLabel: { show: true, customValues: p.yticks, margin: 5, ...labelStyle },
      splitLine: { show: false },
      name: "PSNR", nameLocation: "middle", nameGap: 18, nameTextStyle: nameStyle,
    });
    yAxis.push({
      type: "value", gridIndex: k, min: p.ymin, max: p.ymax, position: "right",
      axisLine: line,
      axisTick: { show: true, inside: true, length: 3, customValues: p.yticks, lineStyle: { color: AXIS_COLOR } },
      axisLabel: { show: false },
      splitLine: { show: false },
    });

    graphic.push({
      type: "text",
      x: left + GRID_W / 2,
      y: row === 0 ? 54 : 269,
      style: { text: p.title, textAlign: "center", textVerticalAlign: "middle", fontSize: 14, fontFamily: FONT, fill: "#000" },
    });

    p.series.forEach((vals, j) => {
      series.push({
        type: "line",
        name: methods[j],
        xAxisIndex: 2 * k,
        yAxisIndex: 2 * k,
        data: buildData(p.bands, vals, p.spikes, j),
        symbol: symbols[j],
        symbolSize: symbolSizes[j],
        showSymbol: true,
        showAllSymbol: true,
        clip: true,
        lineStyle: { color: colors[j], width: 1 },
        itemStyle: { color: colors[j], borderColor: colors[j], borderWidth: borderWidths[j] },
        emphasis: { disabled: true },
        silent: true,
      });
    });
  });

  graphic.push({
    type: "rect",
    z: 0,
    shape: { x: 179, y: 4, width: 958, height: 26 },
    style: { fill: "#fff", stroke: AXIS_COLOR, lineWidth: 1 },
  });

  const legend = methods.map((m, i) => ({
    data: [m],
    left: legendLefts[i],
    top: 8,
    padding: 0,
    itemWidth: 28,
    itemHeight: 6,
    selectedMode: false,
    textStyle: { fontSize: 17, fontFamily: FONT, color: "#000" },
    z: 10,
  }));

  return {
    animation: false,
    backgroundColor: "#fff",
    grid,
    xAxis,
    yAxis,
    series,
    legend,
    graphic,
  };
}

export default function App() {
  const ref = useRef<HTMLDivElement>(null);
  useEffect(() => {
    if (!ref.current) return;
    const chart = echarts.init(ref.current, undefined, { renderer: "svg" });
    chart.setOption(buildOption() as any);
    return () => chart.dispose();
  }, []);
  return <div ref={ref} style={{ position: "absolute", left: 0, top: 0, width: 1309, height: 470 }} />;
}
